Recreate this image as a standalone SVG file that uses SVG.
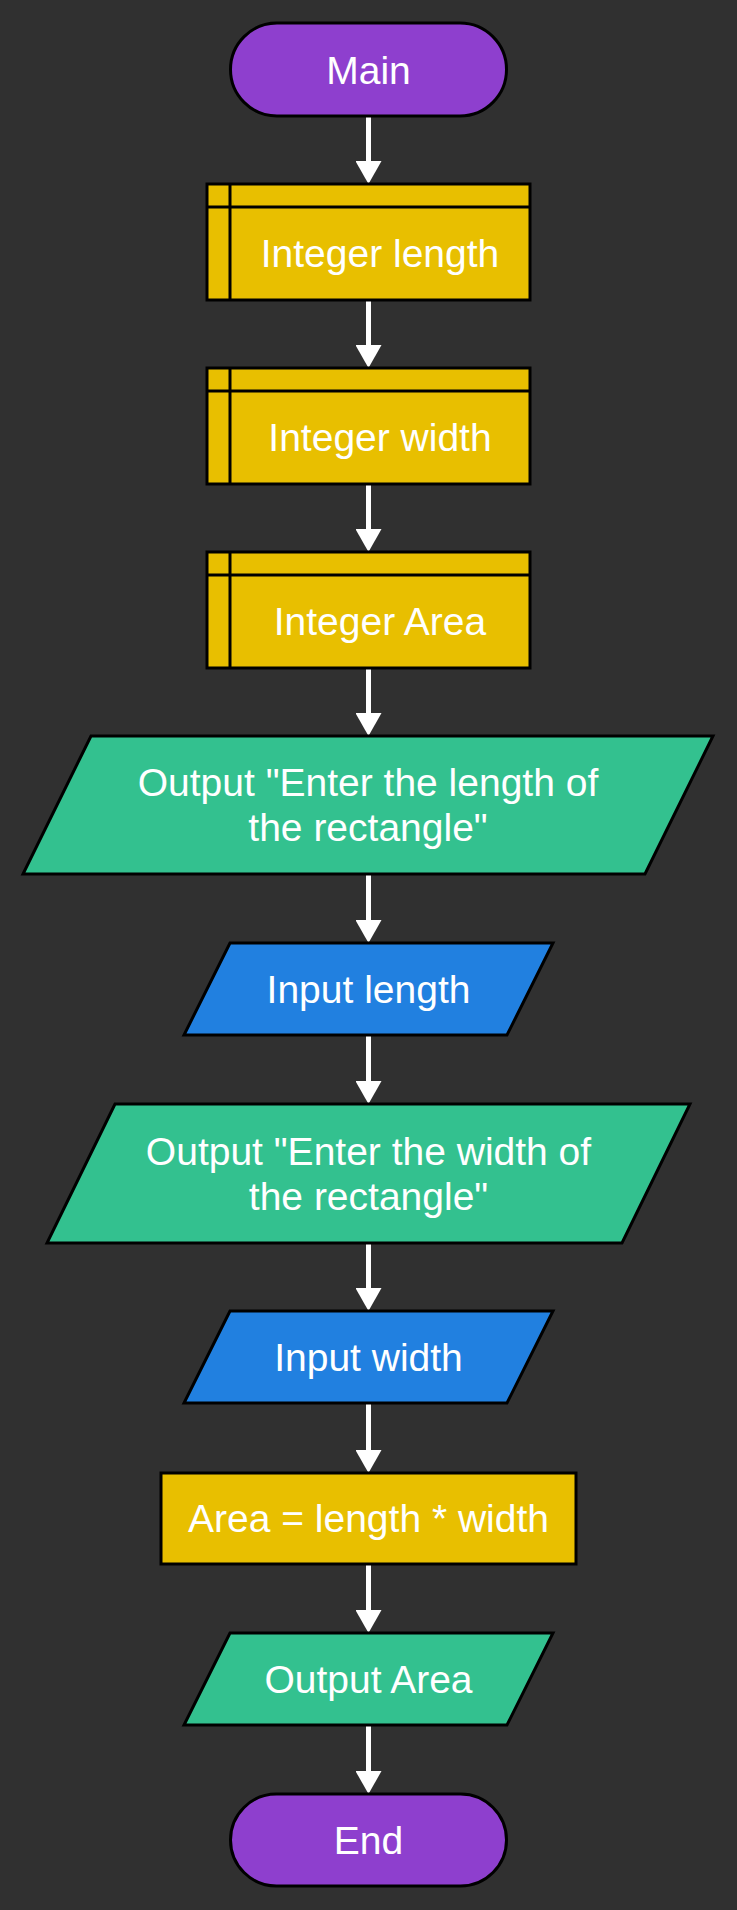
<svg xmlns="http://www.w3.org/2000/svg" width="737" height="1910" viewBox="0 0 737 1910">
<defs>
<marker id="arrow" viewBox="0 0 23 26" refX="0" refY="13" markerWidth="23" markerHeight="26" markerUnits="userSpaceOnUse" orient="auto">
<path d="M0,0 L23,13 L0,26 z" fill="#ffffff"/>
</marker>
<style>
.lbl{font-family:"Liberation Sans",Arial,sans-serif;font-size:39px;fill:#ffffff;text-anchor:middle}
.term{fill:#8e3fce;stroke:#000;stroke-width:3}
.decl{fill:#e8bf00;stroke:#000;stroke-width:3}
.out{fill:#33c18f;stroke:#000;stroke-width:3}
.inp{fill:#2180e0;stroke:#000;stroke-width:3}
.in{stroke:#000;stroke-width:3;fill:none}
.edge{stroke:#ffffff;stroke-width:5;fill:none;marker-end:url(#arrow)}
</style>
</defs>
<rect width="737" height="1910" fill="#303030"/>
<g id="connectors">
<path class="edge" d="M368.5,116 V161"/>
<path class="edge" d="M368.5,300 V345"/>
<path class="edge" d="M368.5,484 V529"/>
<path class="edge" d="M368.5,668 V713"/>
<path class="edge" d="M368.5,874 V920"/>
<path class="edge" d="M368.5,1035 V1081"/>
<path class="edge" d="M368.5,1243 V1288"/>
<path class="edge" d="M368.5,1403 V1450"/>
<path class="edge" d="M368.5,1564 V1610"/>
<path class="edge" d="M368.5,1725 V1771"/>
</g>
<g id="main">
<rect class="term" x="230.5" y="23" width="276" height="93" rx="46.5"/>
<text class="lbl" x="368.5" y="83.5">Main</text>
</g>
<g id="int-length">
<rect class="decl" x="207" y="184" width="323" height="116"/>
<path class="in" d="M230,184 V300 M207,207 H530"/>
<text class="lbl" x="380" y="267">Integer length</text>
</g>
<g id="int-width">
<rect class="decl" x="207" y="368" width="323" height="116"/>
<path class="in" d="M230,368 V484 M207,391 H530"/>
<text class="lbl" x="380" y="451">Integer width</text>
</g>
<g id="int-area">
<rect class="decl" x="207" y="552" width="323" height="116"/>
<path class="in" d="M230,552 V668 M207,575 H530"/>
<text class="lbl" x="380" y="635">Integer Area</text>
</g>
<g id="out-length">
<polygon class="out" points="91,736 713,736 645,874 23,874"/>
<text class="lbl" x="368" y="796">Output "Enter the length of</text>
<text class="lbl" x="368" y="841">the rectangle"</text>
</g>
<g id="in-length">
<polygon class="inp" points="230,943 553,943 507,1035 184,1035"/>
<text class="lbl" x="368.5" y="1002.5">Input length</text>
</g>
<g id="out-width">
<polygon class="out" points="115,1104 690,1104 622,1243 47,1243"/>
<text class="lbl" x="368.5" y="1164.5">Output "Enter the width of</text>
<text class="lbl" x="368.5" y="1209.5">the rectangle"</text>
</g>
<g id="in-width">
<polygon class="inp" points="230,1311 553,1311 507,1403 184,1403"/>
<text class="lbl" x="368.5" y="1370.5">Input width</text>
</g>
<g id="calc">
<rect class="decl" x="161" y="1473" width="415" height="91"/>
<text class="lbl" x="368.5" y="1532">Area = length * width</text>
</g>
<g id="out-area">
<polygon class="out" points="230,1633 553,1633 507,1725 184,1725"/>
<text class="lbl" x="368.5" y="1692.5">Output Area</text>
</g>
<g id="end">
<rect class="term" x="230.5" y="1794" width="276" height="92" rx="46"/>
<text class="lbl" x="368.5" y="1853.5">End</text>
</g>
</svg>
